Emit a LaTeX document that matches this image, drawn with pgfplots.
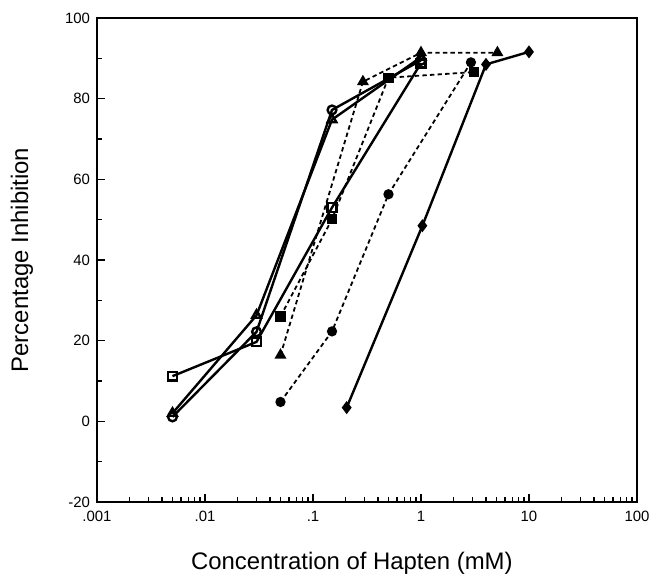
\documentclass[border=0pt]{standalone}
\usepackage{fontspec}
\setmainfont{Liberation Sans}
\usepackage{pgfplots}
\pgfplotsset{compat=1.18}
\usetikzlibrary{calc}

\begin{document}
\begin{tikzpicture}
\begin{axis}[
  width=270bp, height=242bp, scale only axis,
  xmode=log, xmin=0.001, xmax=100, ymin=-20, ymax=100,
  xtick={0.001,0.01,0.1,1,10,100}, xticklabels={.001,.01,.1,1,10,100},
  ytick={-20,0,20,40,60,80,100}, minor ytick={-10,10,30,50,70,90},
  tick align=inside, xtick pos=bottom, ytick pos=left,
  major tick length=4bp, minor tick length=2.5bp,
  tick style={black, line width=0.6bp},
  axis line style={line width=0.7bp},
  /pgf/number format/assume math mode=true,
  tick label style={font=\fontsize{7.5}{9}\selectfont},
  xticklabel style={yshift=-1bp},
  label style={font=\fontsize{12}{14}\selectfont},
  xlabel={Concentration of Hapten (mM)},
  ylabel={Percentage Inhibition},
  xlabel style={at={(axis description cs:0.472,0)}, anchor=center, yshift=-30.5bp},
  ylabel style={at={(axis description cs:-0.139,0.5)}, anchor=center},
  clip=false,
]
% open symbols, solid lines
\addplot[black, line width=1.2bp, mark=square, mark size=2.2bp, mark options={fill=white}]
  coordinates {(0.005,11.2) (0.03,19.7) (0.15,53) (1,88.8)};
\addplot[black, line width=1.2bp, mark=o, mark size=2.2bp, mark options={fill=white}]
  coordinates {(0.005,1.1) (0.03,22.2) (0.15,77.2) (1,89.5)};
\addplot[black, line width=1.2bp, mark=triangle, mark size=2.5bp, mark options={fill=white}]
  coordinates {(0.005,2) (0.03,26.3) (0.15,74.8) (1,90.3)};
% filled symbols, dashed lines
\addplot[black, line width=0.9bp, dash pattern=on 2.2bp off 1.6bp, mark=square*, mark size=2.1bp, mark options={solid}]
  coordinates {(0.05,26) (0.15,50.1) (0.5,85.2) (3.1,86.6)};
\addplot[black, line width=0.9bp, dash pattern=on 2.2bp off 1.6bp, mark=triangle*, mark size=2.6bp, mark options={solid}]
  coordinates {(0.05,16.4) (0.29,84.2) (1,91.4) (5.1,91.4)};
\addplot[black, line width=0.9bp, dash pattern=on 2.2bp off 1.6bp, mark=*, mark size=2.1bp, mark options={solid}]
  coordinates {(0.05,4.8) (0.15,22.3) (0.5,56.3) (2.9,89)};
% filled diamonds, solid line
\addplot[black, line width=1.2bp, mark=diamond*, mark size=2.3bp]
  coordinates {(0.205,3.4) (1.03,48.5) (4,88.5) (10,91.6)};
\end{axis}
\pgfresetboundingbox
\path[use as bounding box] ($(current axis.south west)+(-48.5bp,-43bp)$) rectangle ($(current axis.north east)+(7.5bp,9bp)$);
\end{tikzpicture}
\end{document}
